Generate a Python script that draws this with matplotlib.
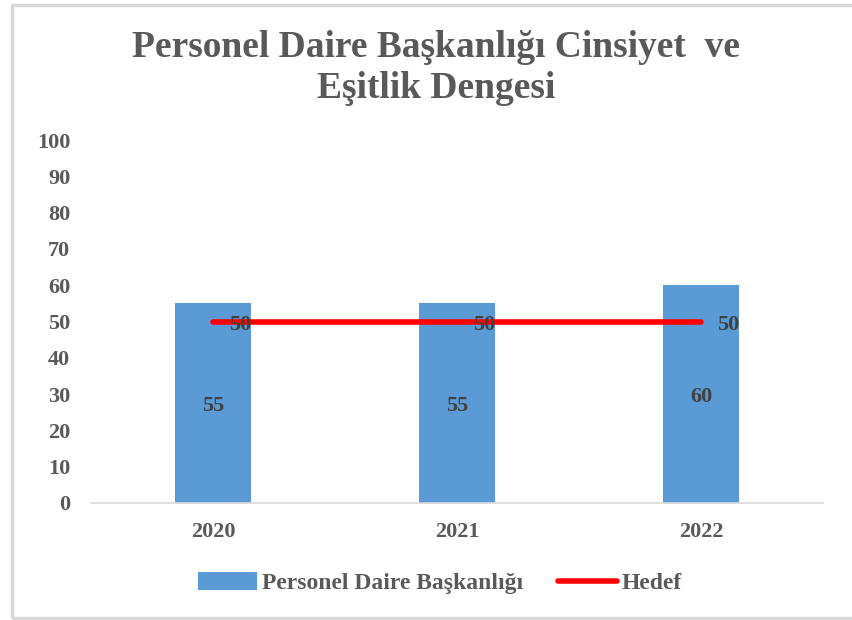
import matplotlib.pyplot as plt
import numpy as np
from matplotlib.patches import Rectangle

# data
years = ['2020', '2021', '2022']
personel = [55, 55, 60]
hedef = [50, 50, 50]

plt.rcParams['font.family'] = ['Liberation Serif', 'DejaVu Serif']
plt.rcParams['font.weight'] = 'bold'

fig = plt.figure(figsize=(8.52, 6.20), dpi=100)
ax = fig.add_axes([91/852, 1 - 503/620, 732/852, 363/620])

x = np.arange(len(years))
bars = ax.bar(x, personel, width=0.31, color='#5B9BD5', label='Personel Daire Başkanlığı', zorder=2)
line, = ax.plot(x, hedef, color='#FF0000', lw=4, solid_capstyle='round', label='Hedef', zorder=3)

# value labels
for xi, v in zip(x, personel):
    ax.annotate(str(v), (xi, v / 2), xytext=(0, -3), textcoords='offset pixels',
                ha='center', va='center', fontsize=16, fontweight='bold',
                color='#404040', zorder=4)
for xi, v in zip(x, hedef):
    ax.annotate(str(v), (xi, v), xytext=(27, -3), textcoords='offset pixels',
                ha='center', va='center', fontsize=16, fontweight='bold',
                color='#404040', zorder=4)

ax.set_xlim(-0.5, 2.5)
ax.set_ylim(0, 100)
ax.set_yticks(range(0, 101, 10))
ax.set_xticks(x)
ax.set_xticklabels(years)
for s in ['top', 'right', 'left']:
    ax.spines[s].set_visible(False)
ax.spines['bottom'].set_color('#D9D9D9')
ax.spines['bottom'].set_linewidth(1.2)
ax.tick_params(axis='both', length=0, labelsize=16, colors='#595959')
ax.tick_params(axis='y', pad=15)
ax.tick_params(axis='x', pad=14)

fig.text(436/852, 1 - 68/620, 'Personel Daire Başkanlığı Cinsiyet  ve\nEşitlik Dengesi',
         ha='center', va='center', fontsize=27, fontweight='bold', color='#595959',
         linespacing=1.24)

fig.legend(handles=[bars, line], loc='center', bbox_to_anchor=(440/852, 1 - 583/620),
           ncol=2, frameon=False, fontsize=17, labelcolor='#595959',
           handlelength=2.5, handleheight=0.8, columnspacing=1.45, handletextpad=0.2)

# chart frame
fig.patches.append(Rectangle((12/852, 2/620), 1.0, 613/620, transform=fig.transFigure,
                             fill=False, edgecolor='#D9D9D9', lw=2.5))

fig.savefig('out.png', dpi=100)
